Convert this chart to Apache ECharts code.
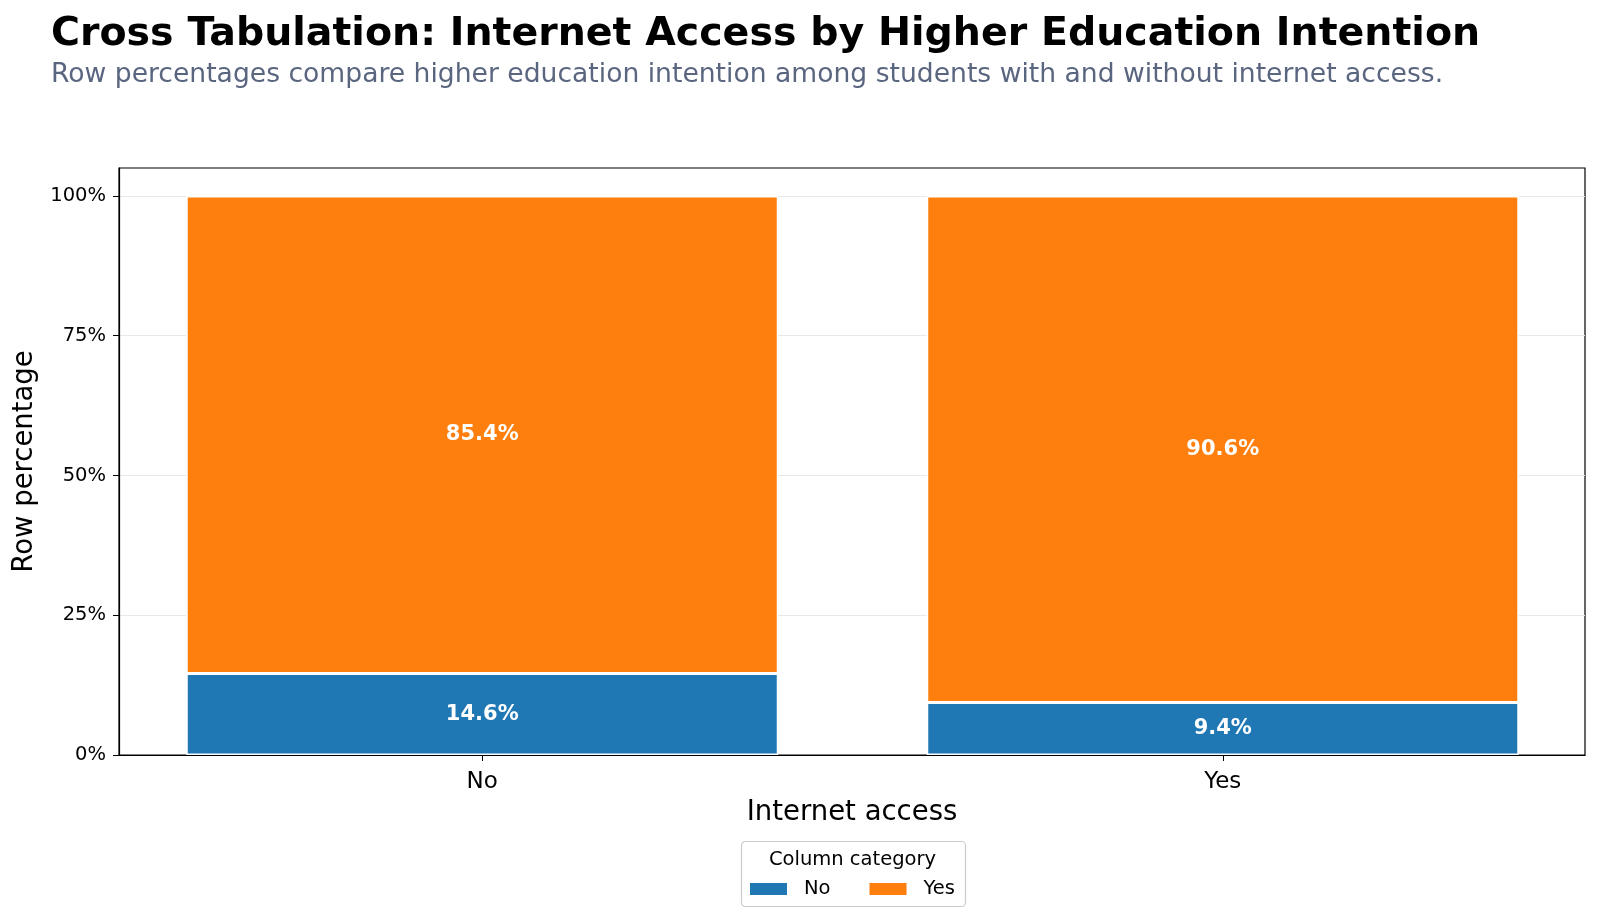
<!DOCTYPE html>
<html>
<head>
<meta charset="utf-8">
<script src="https://cdn.jsdelivr.net/npm/echarts@6/dist/echarts.min.js"></script>
<style>
  html, body { margin: 0; padding: 0; background: #fff; }
  #chart { width: 1600px; height: 921px; }
</style>
</head>
<body>
<div id="chart"></div>
<script>
// row categories (internet access) and column categories (higher education intention)
var rowCats = ['No', 'Yes'];
var colCats = ['No', 'Yes'];
var pctNo = [14.6, 9.4];
var pctYes = [85.4, 90.6];
var yTicks = [0, 25, 50, 75, 100];

var font = 'DejaVu Sans';
var myChart = echarts.init(document.getElementById('chart'), null, { renderer: 'canvas' });

function barLabel() {
    return {
        show: true,
        position: 'inside',
        color: '#fff',
        fontFamily: font,
        fontWeight: 'bold',
        fontSize: 21,
        formatter: function (p) { return p.value.toFixed(1) + '%'; }
    };
}

var option = {
    animation: false,
    backgroundColor: '#fff',
    color: ['#1f77b4', '#ff7f0e'],
    title: [
        {
            text: 'Cross Tabulation: Internet Access by Higher Education Intention',
            left: 46, top: 10,
            textStyle: { fontFamily: font, fontWeight: 'bold', fontSize: 39.5, color: '#000' }
        },
        {
            text: 'Row percentages compare higher education intention among students with and without internet access.',
            left: 46, top: 57,
            textStyle: { fontFamily: font, fontWeight: 'normal', fontSize: 26.6, color: '#5a6680' }
        }
    ],
    grid: [
        // bar grid: category bands sized like the matplotlib x limits
        { left: 112, right: 7, top: 168, bottom: 166 },
        // frame grid: axes box, y ticks and gridlines
        {
            left: 119, right: 15, top: 168, bottom: 166,
            show: true, borderColor: '#000', borderWidth: 1.2, backgroundColor: 'transparent'
        }
    ],
    legend: {
        data: colCats,
        left: 745, top: 874,
        itemWidth: 37, itemHeight: 12, itemGap: 39,
        icon: 'rect',
        itemStyle: { borderWidth: 0 },
        textStyle: { fontFamily: font, fontSize: 19.5, color: '#000', padding: [0, 0, 0, 12] }
    },
    graphic: [
        {
            type: 'rect', left: 739, top: 839,
            shape: { width: 224, height: 65, r: 4 },
            style: { fill: 'none', stroke: '#cccccc', lineWidth: 1.2 },
            z: -1
        },
        {
            type: 'text', x: 852.5, y: 860,
            style: {
                text: 'Column category', fontFamily: font, fontSize: 19.5, fill: '#000',
                align: 'center', verticalAlign: 'middle'
            }
        }
    ],
    xAxis: [
        {
            type: 'category',
            gridIndex: 0,
            data: rowCats,
            axisLine: { show: false },
            axisTick: { show: true, alignWithLabel: true, length: 6, lineStyle: { color: '#000' } },
            axisLabel: { fontFamily: font, fontSize: 23, color: '#000', margin: 16 },
            splitLine: { show: false }
        },
        {
            type: 'value',
            gridIndex: 1,
            min: 0, max: 1,
            name: 'Internet access',
            nameLocation: 'middle',
            nameGap: 44,
            nameTextStyle: { fontFamily: font, fontSize: 27.5, color: '#000' },
            axisLine: { show: true, onZero: false, lineStyle: { color: '#000', width: 1.2 } },
            axisTick: { show: false },
            axisLabel: { show: false },
            splitLine: { show: false }
        }
    ],
    yAxis: [
        {
            type: 'value',
            gridIndex: 0,
            min: 0, max: 105,
            show: false
        },
        {
            type: 'value',
            gridIndex: 1,
            min: 0, max: 105, interval: 25,
            name: 'Row percentage',
            nameLocation: 'middle',
            nameGap: 73,
            nameTextStyle: { fontFamily: font, fontSize: 27.5, color: '#000' },
            axisLine: { show: true, onZero: false, lineStyle: { color: '#000', width: 1.2 } },
            axisTick: { show: true, length: 6, lineStyle: { color: '#000' }, customValues: yTicks },
            axisLabel: {
                fontFamily: font, fontSize: 19.5, color: '#000', margin: 13,
                customValues: yTicks,
                formatter: function (v) { return v + '%'; }
            },
            splitLine: { show: true, lineStyle: { color: '#e8e8e8', width: 1 } }
        }
    ],
    series: [
        {
            name: colCats[0], type: 'bar', stack: 'row',
            xAxisIndex: 0, yAxisIndex: 0,
            barWidth: 592,
            data: pctNo,
            itemStyle: { borderColor: '#fff', borderWidth: 1.5 },
            label: barLabel()
        },
        {
            name: colCats[1], type: 'bar', stack: 'row',
            xAxisIndex: 0, yAxisIndex: 0,
            barWidth: 592,
            data: pctYes,
            itemStyle: { borderColor: '#fff', borderWidth: 1.5 },
            label: barLabel()
        }
    ]
};

myChart.setOption(option, true);
</script>
</body>
</html>
